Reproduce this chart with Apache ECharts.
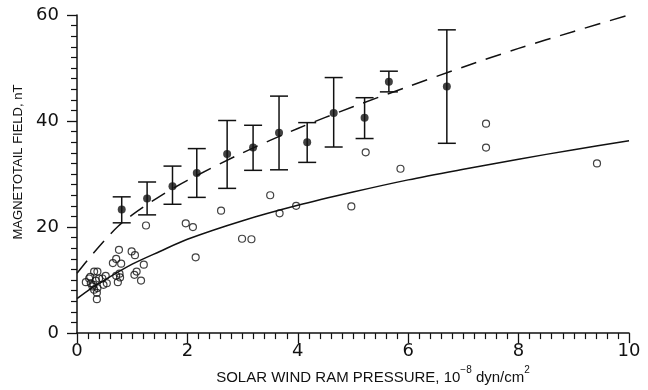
<!DOCTYPE html>
<html><head><meta charset="utf-8">
<script src="https://cdn.jsdelivr.net/npm/echarts@6/dist/echarts.min.js"></script>
<style>html,body{margin:0;padding:0;background:#fff}#c{width:648px;height:390px}</style>
</head><body><div id="c"></div>
<script>
// Binned means with error bars (filled circles)
const meanX = [0.81, 1.27, 1.73, 2.17, 2.72, 3.19, 3.66, 4.17, 4.65, 5.21, 5.65, 6.70];
const meanY = [23.3, 25.4, 27.7, 30.2, 33.8, 35.0, 37.8, 36.0, 41.5, 40.6, 47.4, 46.5];
const errLow = [20.8, 22.3, 24.3, 25.6, 27.3, 30.7, 30.8, 32.2, 35.1, 36.7, 45.5, 35.8];
const errHigh = [25.7, 28.5, 31.5, 34.8, 40.1, 39.2, 44.7, 39.7, 48.2, 44.4, 49.4, 57.2];
// Individual observations (open circles)
const openX = [3.50, 2.61, 3.97, 3.67, 4.97, 1.25, 1.97, 2.10, 2.99, 3.16, 2.15, 0.76, 0.99, 1.05, 0.71, 0.65, 0.80, 1.21, 1.08, 1.04, 1.16, 0.77, 0.71, 0.78, 0.74, 0.31, 0.37, 0.16, 0.22, 0.25, 0.30, 0.34, 0.40, 0.46, 0.52, 0.54, 0.48, 0.37, 0.31, 0.36, 0.36, 0.28, 0.24, 7.41, 7.41, 5.23, 5.86, 9.42];
const openY = [26.0, 23.1, 24.0, 22.6, 23.9, 20.3, 20.7, 20.0, 17.8, 17.7, 14.3, 15.7, 15.4, 14.7, 14.0, 13.2, 13.1, 12.9, 11.6, 11.0, 9.9, 11.2, 10.8, 10.5, 9.6, 11.6, 11.6, 9.6, 10.3, 9.4, 9.1, 9.9, 10.3, 10.3, 10.8, 9.4, 9.1, 8.5, 8.2, 7.6, 6.4, 8.8, 10.6, 39.5, 35.0, 34.1, 31.0, 32.0];
// Fitted curves
const dashX = [0, 0.25, 0.5, 0.75, 1, 1.5, 2, 3, 4, 5, 6, 7, 8, 9, 10];
const dashY = [11.3, 14.5, 17.5, 20.2, 22.3, 25.8, 28.8, 34.0, 38.6, 42.7, 46.5, 50.2, 53.7, 56.9, 60.0];
const solidX = [0, 0.25, 0.5, 1, 1.5, 2, 3, 4, 5, 6, 7, 8, 9, 10];
const solidY = [6.5, 8.4, 10.0, 13.0, 15.4, 17.7, 21.2, 24.1, 26.6, 28.9, 30.9, 32.8, 34.6, 36.3];
const xTicks = [0, 2, 4, 6, 8, 10];
const yTicks = [0, 20, 40, 60];

const zip = (a, b) => a.map((v, i) => [v, b[i]]);
const chart = echarts.init(document.getElementById('c'), null, {renderer: 'canvas'});
const ink = '#111';
const tickFont = {fontFamily: 'DejaVu Sans', fontSize: 18, color: ink};
chart.setOption({
  animation: false,
  backgroundColor: '#fff',
  grid: {left: 77, right: 19, top: 15, bottom: 53, containLabel: false},
  xAxis: {
    type: 'value', min: xTicks[0], max: xTicks[xTicks.length - 1], interval: 2,
    splitLine: {show: false},
    axisLine: {lineStyle: {color: ink, width: 1.5}},
    axisTick: {length: 10, lineStyle: {color: ink, width: 1.3}},
    minorTick: {show: true, splitNumber: 10, length: 6, lineStyle: {color: ink, width: 1.2}},
    axisLabel: Object.assign({margin: 9}, tickFont),
    name: '{t|SOLAR WIND RAM PRESSURE, 10}{s|−8}{t| dyn/cm}{s|2}',
    nameLocation: 'middle', nameGap: 31,
    nameTextStyle: {
      padding: [0, 0, 0, 40],
      rich: {
        t: {fontFamily: 'Liberation Sans Narrow, Liberation Sans, sans-serif', fontSize: 15, color: ink, lineHeight: 20, verticalAlign: 'bottom'},
        s: {fontFamily: 'Liberation Sans Narrow, Liberation Sans, sans-serif', fontSize: 10, color: ink, lineHeight: 20, verticalAlign: 'top', padding: [0, 0, 8, 0]}
      }
    }
  },
  yAxis: {
    type: 'value', min: yTicks[0], max: yTicks[yTicks.length - 1], interval: 20,
    splitLine: {show: false},
    axisLine: {lineStyle: {color: ink, width: 1.5}},
    axisTick: {length: 10, lineStyle: {color: ink, width: 1.3}},
    minorTick: {show: true, splitNumber: 10, length: 6, lineStyle: {color: ink, width: 1.2}},
    axisLabel: Object.assign({margin: 18}, tickFont),
    name: 'MAGNETOTAIL FIELD, nT',
    nameLocation: 'middle', nameGap: 48, nameRotate: 90,
    nameTextStyle: {fontFamily: 'Liberation Sans Narrow, Liberation Sans, sans-serif', fontSize: 13, color: ink, padding: [0, 0, 0, 24]}
  },
  series: [
    {type: 'line', data: zip(dashX, dashY), smooth: 0.3, showSymbol: false, silent: true,
     lineStyle: {color: ink, width: 1.5, type: [16, 10]}},
    {type: 'line', data: zip(solidX, solidY), smooth: 0.3, showSymbol: false, silent: true,
     lineStyle: {color: ink, width: 1.5}},
    {type: 'custom', data: meanX.map((x, i) => [x, errLow[i], errHigh[i]]), silent: true,
     renderItem: function (params, api) {
       const lo = api.coord([api.value(0), api.value(1)]);
       const hi = api.coord([api.value(0), api.value(2)]);
       const hw = 9;
       const st = {stroke: ink, lineWidth: 1.5};
       return {type: 'group', children: [
         {type: 'line', shape: {x1: lo[0], y1: lo[1], x2: hi[0], y2: hi[1]}, style: st},
         {type: 'line', shape: {x1: lo[0] - hw, y1: lo[1], x2: lo[0] + hw, y2: lo[1]}, style: st},
         {type: 'line', shape: {x1: hi[0] - hw, y1: hi[1], x2: hi[0] + hw, y2: hi[1]}, style: st}
       ]};
     }},
    {type: 'scatter', data: zip(meanX, meanY), symbol: 'circle', symbolSize: 8,
     itemStyle: {color: ink}, silent: true, z: 5},
    {type: 'scatter', data: zip(openX, openY), symbol: 'circle', symbolSize: 7,
     itemStyle: {color: 'rgba(0,0,0,0)', borderColor: ink, borderWidth: 1.2}, silent: true, z: 4}
  ]
});
</script></body></html>
